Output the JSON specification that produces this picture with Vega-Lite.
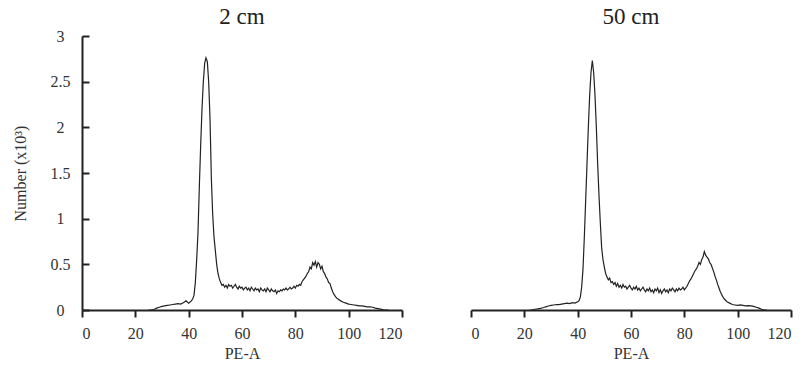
{
  "$schema": "https://vega.github.io/schema/vega-lite/v6.json",
  "padding": {"top": 6, "left": 12, "right": 5, "bottom": 5},
  "background": "white",
  "config": {
    "view": {"stroke": null},
    "font": "Liberation Serif",
    "concat": {"spacing": 67},
    "axis": {
      "domainColor": "#222", "domainWidth": 2, "tickColor": "#222", "tickWidth": 2,
      "labelFont": "Liberation Serif", "labelFontSize": 16, "labelColor": "#333",
      "titleFont": "Liberation Serif", "titleFontSize": 16, "titleColor": "#333", "titleFontWeight": "normal",
      "grid": false
    },
    "title": {"font": "Liberation Serif", "fontSize": 23, "fontWeight": "normal", "color": "#222", "baseline": "alphabetic"}
  },
  "datasets": {
    "cm2": [
      {"x":25,"y":0},{"x":26,"y":0},{"x":27,"y":0.005},{"x":28,"y":0.02},{"x":29,"y":0.03},{"x":30,"y":0.04},{"x":31,"y":0.045},{"x":32,"y":0.05},{"x":33,"y":0.055},{"x":34,"y":0.06},{"x":35,"y":0.065},{"x":36,"y":0.07},{"x":37,"y":0.065},{"x":38,"y":0.08},{"x":39,"y":0.1},{"x":40,"y":0.075},{"x":41,"y":0.1},{"x":41.5,"y":0.12},{"x":42,"y":0.16},{"x":42.5,"y":0.3},{"x":43,"y":0.55},{"x":43.5,"y":0.85},{"x":44,"y":1.35},{"x":44.5,"y":1.8},{"x":45,"y":2.2},{"x":45.5,"y":2.5},{"x":46,"y":2.7},{"x":46.5,"y":2.76},{"x":47,"y":2.72},{"x":47.5,"y":2.5},{"x":48,"y":2.1},{"x":48.5,"y":1.45},{"x":49,"y":1.05},{"x":49.5,"y":0.8},{"x":50,"y":0.65},{"x":50.5,"y":0.5},{"x":51,"y":0.4},{"x":51.5,"y":0.34},{"x":52,"y":0.3},{"x":52.5,"y":0.27},{"x":53,"y":0.28},{"x":53.5,"y":0.25},{"x":54,"y":0.27},{"x":54.5,"y":0.24},{"x":55,"y":0.28},{"x":55.5,"y":0.26},{"x":56,"y":0.27},{"x":56.5,"y":0.24},{"x":57,"y":0.26},{"x":57.5,"y":0.28},{"x":58,"y":0.25},{"x":58.5,"y":0.23},{"x":59,"y":0.26},{"x":59.5,"y":0.24},{"x":60,"y":0.25},{"x":60.5,"y":0.22},{"x":61,"y":0.24},{"x":61.5,"y":0.25},{"x":62,"y":0.22},{"x":62.5,"y":0.24},{"x":63,"y":0.21},{"x":63.5,"y":0.25},{"x":64,"y":0.23},{"x":64.5,"y":0.21},{"x":65,"y":0.24},{"x":65.5,"y":0.22},{"x":66,"y":0.23},{"x":66.5,"y":0.2},{"x":67,"y":0.24},{"x":67.5,"y":0.22},{"x":68,"y":0.21},{"x":68.5,"y":0.23},{"x":69,"y":0.2},{"x":69.5,"y":0.24},{"x":70,"y":0.22},{"x":70.5,"y":0.2},{"x":71,"y":0.23},{"x":71.5,"y":0.21},{"x":72,"y":0.2},{"x":72.5,"y":0.22},{"x":73,"y":0.18},{"x":73.5,"y":0.21},{"x":74,"y":0.2},{"x":74.5,"y":0.22},{"x":75,"y":0.21},{"x":75.5,"y":0.23},{"x":76,"y":0.22},{"x":76.5,"y":0.24},{"x":77,"y":0.22},{"x":77.5,"y":0.23},{"x":78,"y":0.25},{"x":78.5,"y":0.23},{"x":79,"y":0.24},{"x":79.5,"y":0.26},{"x":80,"y":0.24},{"x":80.5,"y":0.27},{"x":81,"y":0.26},{"x":81.5,"y":0.28},{"x":82,"y":0.27},{"x":82.5,"y":0.31},{"x":83,"y":0.33},{"x":83.5,"y":0.35},{"x":84,"y":0.37},{"x":84.5,"y":0.4},{"x":85,"y":0.42},{"x":85.5,"y":0.47},{"x":86,"y":0.45},{"x":86.5,"y":0.52},{"x":87,"y":0.49},{"x":87.5,"y":0.53},{"x":88,"y":0.47},{"x":88.5,"y":0.52},{"x":89,"y":0.5},{"x":89.5,"y":0.45},{"x":90,"y":0.48},{"x":90.5,"y":0.42},{"x":91,"y":0.4},{"x":91.5,"y":0.36},{"x":92,"y":0.34},{"x":92.5,"y":0.3},{"x":93,"y":0.29},{"x":93.5,"y":0.24},{"x":94,"y":0.2},{"x":94.5,"y":0.17},{"x":95,"y":0.15},{"x":95.5,"y":0.13},{"x":96,"y":0.12},{"x":97,"y":0.1},{"x":98,"y":0.085},{"x":99,"y":0.075},{"x":100,"y":0.065},{"x":101,"y":0.06},{"x":102,"y":0.055},{"x":103,"y":0.05},{"x":104,"y":0.045},{"x":105,"y":0.045},{"x":106,"y":0.04},{"x":107,"y":0.035},{"x":108,"y":0.035},{"x":109,"y":0.03},{"x":110,"y":0.02},{"x":111,"y":0.015},{"x":112,"y":0.01},{"x":113,"y":0.003},{"x":114,"y":0},{"x":115,"y":0}
    ],
    "cm50": [
      {"x":22,"y":0},{"x":23,"y":0.003},{"x":24,"y":0.008},{"x":25,"y":0.012},{"x":26,"y":0.018},{"x":27,"y":0.025},{"x":28,"y":0.035},{"x":29,"y":0.044},{"x":30,"y":0.05},{"x":31,"y":0.055},{"x":32,"y":0.06},{"x":33,"y":0.058},{"x":34,"y":0.065},{"x":35,"y":0.07},{"x":36,"y":0.075},{"x":37,"y":0.07},{"x":38,"y":0.08},{"x":39,"y":0.075},{"x":40,"y":0.09},{"x":40.5,"y":0.1},{"x":41,"y":0.14},{"x":41.5,"y":0.25},{"x":42,"y":0.45},{"x":42.5,"y":0.8},{"x":43,"y":1.2},{"x":43.5,"y":1.6},{"x":44,"y":2.0},{"x":44.5,"y":2.35},{"x":45,"y":2.6},{"x":45.5,"y":2.73},{"x":46,"y":2.6},{"x":46.5,"y":2.35},{"x":47,"y":2.0},{"x":47.5,"y":1.6},{"x":48,"y":1.25},{"x":48.5,"y":0.95},{"x":49,"y":0.68},{"x":49.5,"y":0.55},{"x":50,"y":0.47},{"x":50.5,"y":0.4},{"x":51,"y":0.36},{"x":51.5,"y":0.33},{"x":52,"y":0.35},{"x":52.5,"y":0.3},{"x":53,"y":0.31},{"x":53.5,"y":0.28},{"x":54,"y":0.3},{"x":54.5,"y":0.26},{"x":55,"y":0.29},{"x":55.5,"y":0.25},{"x":56,"y":0.27},{"x":56.5,"y":0.24},{"x":57,"y":0.28},{"x":57.5,"y":0.25},{"x":58,"y":0.26},{"x":58.5,"y":0.23},{"x":59,"y":0.25},{"x":59.5,"y":0.27},{"x":60,"y":0.24},{"x":60.5,"y":0.22},{"x":61,"y":0.25},{"x":61.5,"y":0.23},{"x":62,"y":0.26},{"x":62.5,"y":0.22},{"x":63,"y":0.24},{"x":63.5,"y":0.21},{"x":64,"y":0.23},{"x":64.5,"y":0.25},{"x":65,"y":0.22},{"x":65.5,"y":0.2},{"x":66,"y":0.23},{"x":66.5,"y":0.21},{"x":67,"y":0.24},{"x":67.5,"y":0.2},{"x":68,"y":0.22},{"x":68.5,"y":0.19},{"x":69,"y":0.23},{"x":69.5,"y":0.21},{"x":70,"y":0.24},{"x":70.5,"y":0.19},{"x":71,"y":0.22},{"x":71.5,"y":0.18},{"x":72,"y":0.21},{"x":72.5,"y":0.23},{"x":73,"y":0.2},{"x":73.5,"y":0.22},{"x":74,"y":0.19},{"x":74.5,"y":0.23},{"x":75,"y":0.21},{"x":75.5,"y":0.24},{"x":76,"y":0.22},{"x":76.5,"y":0.2},{"x":77,"y":0.23},{"x":77.5,"y":0.21},{"x":78,"y":0.24},{"x":78.5,"y":0.22},{"x":79,"y":0.23},{"x":79.5,"y":0.25},{"x":80,"y":0.22},{"x":80.5,"y":0.24},{"x":81,"y":0.26},{"x":81.5,"y":0.29},{"x":82,"y":0.32},{"x":82.5,"y":0.34},{"x":83,"y":0.37},{"x":83.5,"y":0.4},{"x":84,"y":0.43},{"x":84.5,"y":0.45},{"x":85,"y":0.48},{"x":85.5,"y":0.52},{"x":86,"y":0.5},{"x":86.5,"y":0.55},{"x":87,"y":0.58},{"x":87.5,"y":0.64},{"x":88,"y":0.6},{"x":88.5,"y":0.58},{"x":89,"y":0.56},{"x":89.5,"y":0.52},{"x":90,"y":0.5},{"x":90.5,"y":0.46},{"x":91,"y":0.42},{"x":91.5,"y":0.37},{"x":92,"y":0.33},{"x":92.5,"y":0.28},{"x":93,"y":0.24},{"x":93.5,"y":0.2},{"x":94,"y":0.17},{"x":94.5,"y":0.14},{"x":95,"y":0.12},{"x":96,"y":0.09},{"x":97,"y":0.075},{"x":98,"y":0.06},{"x":99,"y":0.055},{"x":100,"y":0.05},{"x":101,"y":0.055},{"x":102,"y":0.05},{"x":103,"y":0.045},{"x":104,"y":0.048},{"x":105,"y":0.045},{"x":106,"y":0.04},{"x":107,"y":0.03},{"x":108,"y":0.02},{"x":109,"y":0.008},{"x":110,"y":0},{"x":111,"y":0}
    ]
  },
  "hconcat": [
    {
      "title": {"text": "2 cm", "offset": -1},
      "width": 320,
      "height": 274,
      "data": {"name": "cm2"},
      "mark": {"type": "line", "color": "#222", "strokeWidth": 1.2},
      "encoding": {
        "x": {"field": "x", "type": "quantitative", "scale": {"domain": [0, 120], "nice": false},
              "axis": {"title": "PE-A", "values": [0,20,40,60,80,100,120], "format": "d", "tickSize": 7, "labelPadding": 8, "titlePadding": 4}},
        "y": {"field": "y", "type": "quantitative", "scale": {"domain": [0, 3], "nice": false},
              "axis": {"title": "Number (x10³)", "values": [0,0.5,1,1.5,2,2.5,3], "format": "~g", "tickSize": -7, "labelPadding": 29, "labelAlign": "center", "titlePadding": 22}}
      }
    },
    {
      "title": {"text": "50 cm", "offset": 7},
      "width": 320,
      "height": 274,
      "data": {"name": "cm50"},
      "mark": {"type": "line", "color": "#222", "strokeWidth": 1.2},
      "encoding": {
        "x": {"field": "x", "type": "quantitative", "scale": {"domain": [0, 120], "nice": false},
              "axis": {"title": "PE-A", "values": [0,20,40,60,80,100,120], "format": "d", "tickSize": 7, "labelPadding": 8, "titlePadding": 4}},
        "y": {"field": "y", "type": "quantitative", "scale": {"domain": [0, 3], "nice": false}, "axis": null}
      }
    }
  ]
}
